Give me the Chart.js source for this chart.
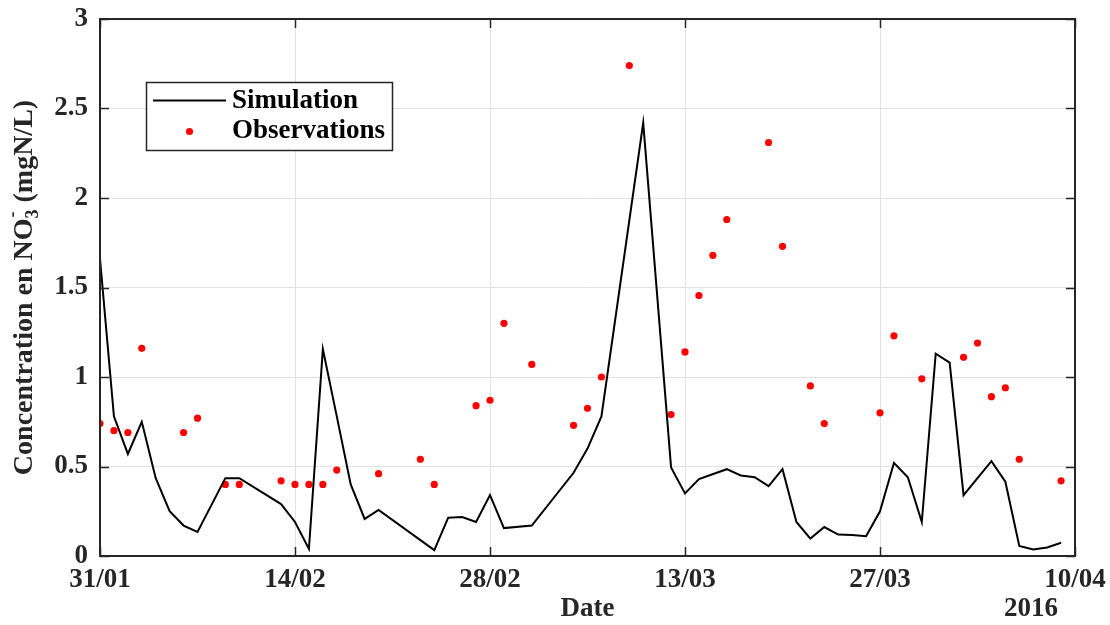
<!DOCTYPE html>
<html><head><meta charset="utf-8">
<script src="https://cdn.jsdelivr.net/npm/chart.js@4/dist/chart.umd.min.js"></script>
<style>html,body{margin:0;padding:0;background:#fff;} #wrap{width:1110px;height:625px;}</style>
</head><body><div id="wrap"><canvas id="c" width="1110" height="625"></canvas></div>
<script>
// ---- data ----
const xTickDays = [0, 14, 28, 42, 56, 70];
const xTickLabels = ['31/01', '14/02', '28/02', '13/03', '27/03', '10/04'];
const yTickValues = [0, 0.5, 1, 1.5, 2, 2.5, 3];
const yTickLabels = ['0', '0.5', '1', '1.5', '2', '2.5', '3'];
const yearLabel = '2016';

const simDays = [0, 1, 2, 3, 4, 5, 6, 7, 9, 10, 13, 14, 15, 16, 17, 18, 19, 20, 24, 25, 26, 27, 28, 29, 31, 34, 35, 36, 39, 41, 42, 43, 45, 46, 47, 48, 49, 50, 51, 52, 53, 54, 55, 56, 57, 58, 59, 60, 61, 62, 63, 64, 65, 66, 67, 68, 69];
const simValues = [1.66, 0.78, 0.57, 0.75, 0.435, 0.25, 0.17, 0.134, 0.435, 0.435, 0.29, 0.19, 0.04, 1.156, 0.78, 0.40, 0.207, 0.257, 0.033, 0.214, 0.218, 0.19, 0.34, 0.156, 0.17, 0.465, 0.60, 0.78, 2.42, 0.495, 0.35, 0.43, 0.485, 0.45, 0.44, 0.39, 0.485, 0.19, 0.097, 0.162, 0.12, 0.117, 0.11, 0.25, 0.52, 0.44, 0.19, 1.13, 1.08, 0.34, 0.435, 0.53, 0.415, 0.056, 0.037, 0.048, 0.074];

const obsDays = [0, 1, 2, 3, 6, 7, 9, 10, 13, 14, 15, 16, 17, 20, 23, 24, 27, 28, 29, 31, 34, 35, 36, 38, 41, 42, 43, 44, 45, 48, 49, 51, 52, 56, 57, 59, 62, 63, 64, 65, 66, 69];
const obsValues = [0.74, 0.70, 0.69, 1.16, 0.69, 0.77, 0.40, 0.40, 0.42, 0.40, 0.40, 0.40, 0.48, 0.46, 0.54, 0.40, 0.84, 0.87, 1.30, 1.07, 0.73, 0.825, 1.00, 2.74, 0.79, 1.14, 1.455, 1.68, 1.88, 2.31, 1.73, 0.95, 0.74, 0.80, 1.23, 0.99, 1.11, 1.19, 0.89, 0.94, 0.54, 0.42];

const seriesNames = ['Simulation', 'Observations'];

// ---- style ----
const FONT = '"Liberation Serif", "Times New Roman", serif';
const AXIS = '#262626';
const FS = 27;

const decor = {
  id: 'decor',
  afterDatasetsDraw(chart) {
    const ctx = chart.ctx;
    const a = chart.chartArea;
    const xs = chart.scales.x, ys = chart.scales.y;
    ctx.save();
    // box
    ctx.strokeStyle = AXIS;
    ctx.lineWidth = 2;
    ctx.strokeRect(a.left, a.top, a.right - a.left, a.bottom - a.top);
    // inward ticks
    const TL = 9;
    ctx.lineWidth = 1.5;
    ctx.beginPath();
    xTickDays.forEach(v => {
      const px = Math.round(xs.getPixelForValue(v)) + 0.5;
      ctx.moveTo(px, a.bottom); ctx.lineTo(px, a.bottom - TL);
      ctx.moveTo(px, a.top); ctx.lineTo(px, a.top + TL);
    });
    yTickValues.forEach(v => {
      const py = Math.round(ys.getPixelForValue(v)) + 0.5;
      ctx.moveTo(a.left, py); ctx.lineTo(a.left + TL, py);
      ctx.moveTo(a.right, py); ctx.lineTo(a.right - TL, py);
    });
    ctx.stroke();

    // legend
    const lx = 146, ly = 82, lw = 246, lh = 68;
    ctx.fillStyle = '#fff';
    ctx.fillRect(lx, ly, lw, lh);
    ctx.strokeStyle = AXIS;
    ctx.lineWidth = 1.5;
    ctx.strokeRect(lx + 0.5, ly + 0.5, lw, lh);
    ctx.strokeStyle = '#000';
    ctx.lineWidth = 2;
    ctx.beginPath(); ctx.moveTo(153, 100.5); ctx.lineTo(226, 100.5); ctx.stroke();
    ctx.fillStyle = '#ff0000';
    ctx.beginPath(); ctx.arc(189.5, 131.5, 3.6, 0, Math.PI * 2); ctx.fill();
    ctx.fillStyle = '#000';
    ctx.font = 'bold ' + FS + 'px ' + FONT;
    ctx.textAlign = 'left';
    ctx.textBaseline = 'middle';
    ctx.fillText(seriesNames[0], 232, 101);
    ctx.fillText(seriesNames[1], 232, 131);

    // x title and year
    ctx.fillStyle = AXIS;
    ctx.textAlign = 'center';
    ctx.textBaseline = 'middle';
    ctx.fillText('Date', (a.left + a.right) / 2, 609);
    ctx.fillText(yearLabel, 1031, 609);

    // y title with subscript/superscript
    const big = 'bold 28px ' + FONT;
    const small = 'bold 18px ' + FONT;
    const p1 = 'Concentration en NO', sub = '3', sup = '-', p2 = ' (mgN/L)';
    ctx.font = big; const w1 = ctx.measureText(p1).width, w2 = ctx.measureText(p2).width;
    ctx.font = small; const ws = Math.max(ctx.measureText(sub).width, ctx.measureText(sup).width);
    const total = w1 + ws + w2;
    ctx.translate(25, (a.top + a.bottom) / 2);
    ctx.rotate(-Math.PI / 2);
    ctx.textAlign = 'left';
    ctx.textBaseline = 'middle';
    let x0 = -total / 2;
    ctx.font = big; ctx.fillText(p1, x0, 0); x0 += w1;
    ctx.font = small; ctx.fillText(sub, x0, 8); ctx.fillText(sup, x0 + 1, -12); x0 += ws;
    ctx.font = big; ctx.fillText(p2, x0, 0);
    ctx.restore();
  }
};

new Chart(document.getElementById('c'), {
  type: 'line',
  data: {
    datasets: [
      {
        label: seriesNames[0],
        data: simDays.map((d, i) => ({ x: d, y: simValues[i] })),
        borderColor: '#000', borderWidth: 2, pointRadius: 0, tension: 0, fill: false
      },
      {
        label: seriesNames[1],
        data: obsDays.map((d, i) => ({ x: d, y: obsValues[i] })),
        showLine: false, pointRadius: 3.6, pointBorderWidth: 0,
        pointBackgroundColor: '#ff0000', borderColor: '#ff0000'
      }
    ]
  },
  options: {
    responsive: false, animation: false, devicePixelRatio: 1,
    layout: { padding: { top: 19, right: 35, left: 0, bottom: 0 } },
    plugins: { legend: { display: false }, tooltip: { enabled: false } },
    scales: {
      x: {
        type: 'linear', min: 0, max: 70,
        afterBuildTicks: s => { s.ticks = xTickDays.map(v => ({ value: v })); },
        afterFit: s => { s.height = 69; s.paddingLeft = 0; s.paddingRight = 0; },
        ticks: {
          callback: v => xTickLabels[xTickDays.indexOf(v)],
          font: { family: FONT, size: FS, weight: 'bold' }, color: AXIS,
          padding: 8, maxRotation: 0, autoSkip: false
        },
        grid: { color: '#e2e2e2', lineWidth: 1, drawTicks: false },
        border: { display: false }
      },
      y: {
        min: 0, max: 3,
        afterBuildTicks: s => { s.ticks = yTickValues.map(v => ({ value: v })); },
        afterFit: s => { s.width = 100; s.paddingTop = 0; s.paddingBottom = 0; },
        ticks: {
          callback: v => yTickLabels[yTickValues.indexOf(v)],
          font: { family: FONT, size: FS, weight: 'bold' }, color: AXIS,
          padding: 12
        },
        grid: { color: '#e2e2e2', lineWidth: 1, drawTicks: false },
        border: { display: false }
      }
    }
  },
  plugins: [decor]
});
</script>
</body></html>
